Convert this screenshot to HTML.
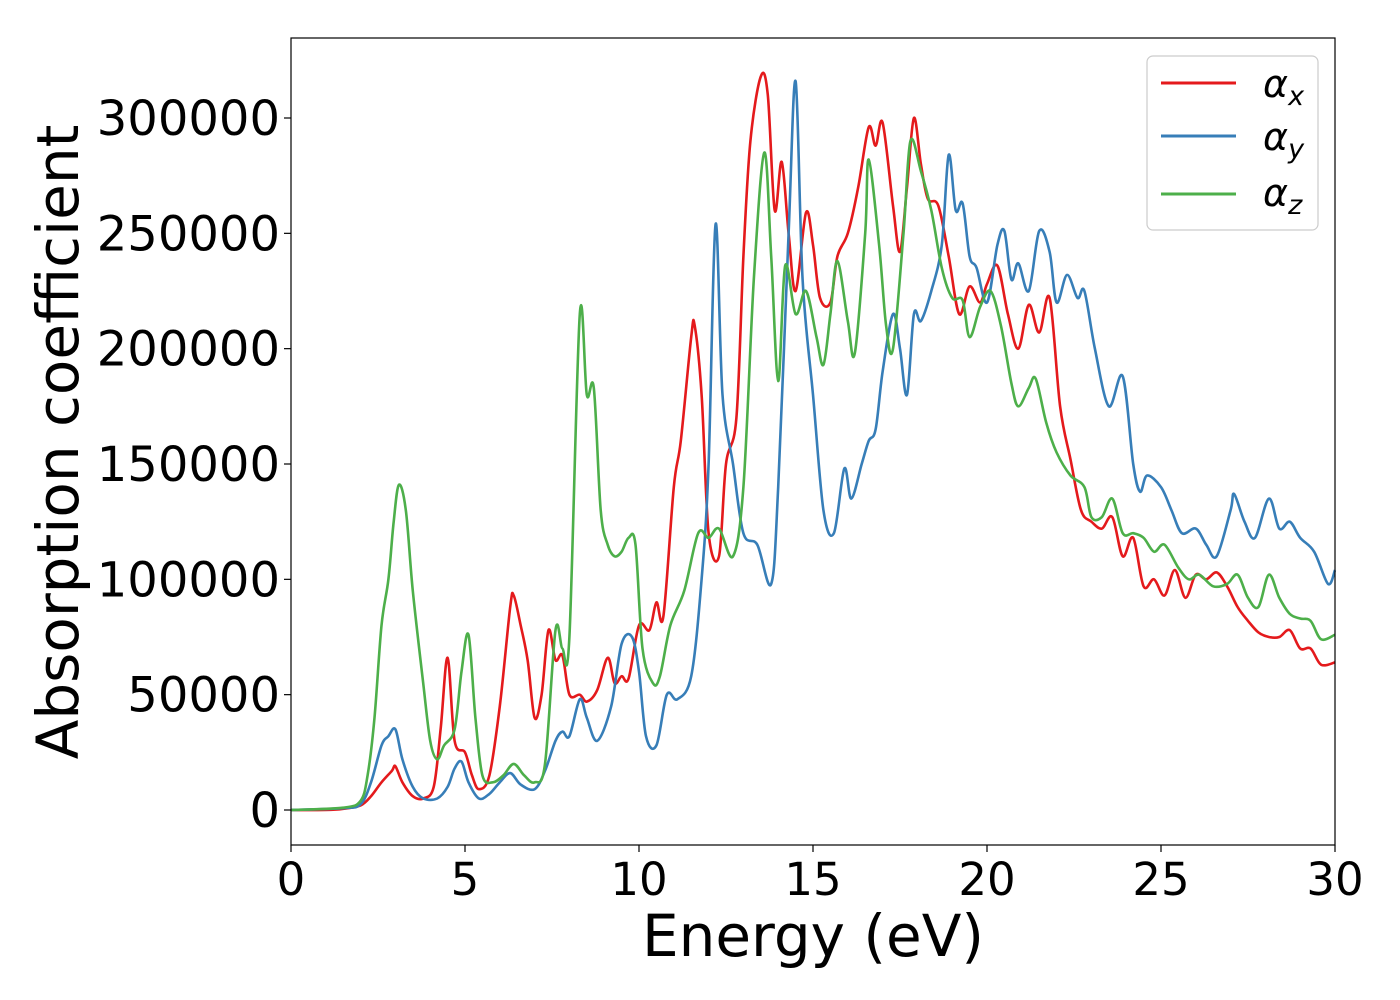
<!DOCTYPE html>
<html><head><meta charset="utf-8"><style>
html,body{margin:0;padding:0;background:#fff;}
svg{display:block;font-family:"DejaVu Sans","Liberation Sans",sans-serif;}
</style></head><body>
<svg id="chart" width="1400" height="1000">
<rect x="291" y="38" width="1044" height="807" fill="#fff"/>
<g id="lines"></g>
<rect x="291" y="38" width="1044" height="807" fill="none" stroke="#000" stroke-width="1.2"/>
<g id="xticks"></g><g id="yticks"></g>
<text x="813" y="956" font-size="58" text-anchor="middle">Energy (eV)</text>
<text transform="translate(78,442) rotate(-90)" font-size="58" text-anchor="middle">Absorption coefficient</text>
<g>
<rect x="1147" y="56" width="171" height="174" rx="6" fill="#fff" fill-opacity="0.8" stroke="#ccc" stroke-width="1.2"/>
<g><line x1="1161" y1="83" x2="1236" y2="83" stroke="#e41a1c" stroke-width="3"/><text x="1263" y="97" font-size="38" font-style="italic">α<tspan font-size="27" dy="8">x</tspan></text></g>
<g><line x1="1161" y1="136" x2="1236" y2="136" stroke="#377eb8" stroke-width="3"/><text x="1263" y="150" font-size="38" font-style="italic">α<tspan font-size="27" dy="8">y</tspan></text></g>
<g><line x1="1161" y1="194" x2="1236" y2="194" stroke="#4daf4a" stroke-width="3"/><text x="1263" y="206" font-size="38" font-style="italic">α<tspan font-size="27" dy="8">z</tspan></text></g>
</g>
</svg>
<script>
const xTicks=[0,5,10,15,20,25,30];
const yTicks=[0,50000,100000,150000,200000,250000,300000];
const redE=[0,1,1.5,2,2.3,2.6,2.9,3.0,3.2,3.5,3.8,4.1,4.3,4.5,4.7,5.0,5.2,5.4,5.7,6.0,6.3,6.4,6.6,6.8,7.0,7.2,7.4,7.6,7.8,8.0,8.3,8.5,8.8,9.1,9.3,9.5,9.7,10.0,10.3,10.5,10.7,11.0,11.2,11.5,11.6,11.8,12.0,12.3,12.5,12.8,13.0,13.2,13.5,13.7,13.9,14.1,14.3,14.5,14.8,15.0,15.2,15.5,15.7,16.0,16.3,16.6,16.8,17.0,17.3,17.5,17.7,17.9,18.1,18.3,18.6,18.9,19.2,19.5,19.8,20.0,20.3,20.6,20.9,21.2,21.5,21.8,22.1,22.4,22.7,23.0,23.3,23.6,23.9,24.2,24.5,24.8,25.1,25.4,25.7,26.0,26.3,26.6,26.9,27.2,27.5,27.8,28.1,28.4,28.7,29.0,29.3,29.6,30];
const redV=[0,0,500,2000,6000,12000,17000,19000,12000,6000,5000,10000,35000,66000,30000,25000,15000,9000,15000,45000,88000,93000,80000,65000,40000,50000,78000,65000,67000,50000,50000,47000,52000,66000,55000,58000,57000,80000,78000,90000,84000,140000,160000,205000,210000,180000,120000,110000,150000,170000,240000,290000,318000,310000,260000,281000,250000,225000,259000,245000,222000,220000,240000,250000,270000,296000,288000,298000,262000,242000,270000,300000,280000,265000,262000,240000,215000,227000,220000,228000,236000,215000,200000,219000,207000,222000,175000,152000,130000,125000,122000,127000,110000,118000,97000,100000,93000,104000,92000,102000,100000,103000,97000,88000,82000,77000,75000,75000,78000,70000,70000,63000,64000];
const blueE=[0,1.5,2,2.3,2.6,2.8,3.0,3.2,3.5,3.8,4.2,4.5,4.7,4.9,5.1,5.4,5.7,6.0,6.3,6.6,7.0,7.3,7.6,7.8,8.0,8.3,8.5,8.8,9.2,9.5,9.8,10.0,10.2,10.5,10.8,11.1,11.5,11.8,12.0,12.2,12.4,12.7,13.0,13.4,13.8,14.0,14.3,14.5,14.7,15.0,15.3,15.6,15.9,16.1,16.4,16.6,16.8,17.0,17.3,17.5,17.7,17.9,18.1,18.4,18.7,18.9,19.1,19.3,19.5,19.7,20.0,20.3,20.5,20.7,20.9,21.2,21.5,21.8,22.0,22.3,22.6,22.8,23.1,23.5,23.9,24.2,24.4,24.6,25.0,25.3,25.6,26.0,26.3,26.6,27.0,27.1,27.4,27.7,28.1,28.4,28.7,29.0,29.4,29.8,30];
const blueV=[0,800,2500,12000,28000,32000,35000,22000,10000,5000,5000,10000,18000,21000,12000,5000,7000,12000,16000,11000,9000,17000,30000,34000,32000,48000,40000,30000,45000,72000,75000,60000,32000,28000,50000,48000,58000,100000,150000,254000,180000,150000,120000,115000,98000,140000,250000,316000,230000,180000,130000,120000,148000,135000,150000,160000,165000,190000,215000,200000,180000,215000,212000,225000,245000,284000,260000,263000,240000,235000,220000,245000,251000,230000,237000,225000,251000,242000,220000,232000,222000,225000,200000,175000,188000,150000,138000,145000,140000,130000,120000,122000,115000,110000,130000,137000,125000,118000,135000,122000,125000,118000,112000,98000,104000];
const greenE=[0,1.5,2.0,2.2,2.4,2.6,2.8,2.95,3.1,3.3,3.5,3.8,4.0,4.2,4.4,4.7,4.9,5.1,5.3,5.5,5.8,6.1,6.4,6.7,7.0,7.3,7.6,7.8,8.0,8.3,8.5,8.7,8.9,9.1,9.3,9.5,9.7,9.9,10.1,10.4,10.6,10.9,11.3,11.7,12.0,12.3,12.7,13.0,13.3,13.6,13.8,14.0,14.2,14.5,14.8,15.1,15.3,15.5,15.7,16.0,16.2,16.5,16.6,16.9,17.1,17.3,17.6,17.8,18.1,18.4,18.7,19.0,19.3,19.5,19.8,20.1,20.4,20.7,20.9,21.2,21.4,21.7,22.0,22.4,22.8,23.0,23.3,23.6,23.9,24.2,24.5,24.8,25.1,25.5,25.8,26.1,26.5,26.9,27.2,27.5,27.8,28.1,28.4,28.7,29.0,29.3,29.6,30];
const greenV=[0,1000,4000,15000,40000,80000,100000,125000,141000,130000,95000,55000,30000,22000,28000,35000,60000,76000,40000,15000,12000,15000,20000,15000,12000,20000,78000,70000,75000,215000,180000,183000,130000,115000,110000,112000,118000,115000,70000,55000,58000,80000,95000,120000,118000,122000,110000,140000,230000,285000,240000,186000,236000,215000,225000,205000,193000,215000,238000,212000,198000,250000,282000,245000,210000,200000,250000,290000,277000,260000,235000,222000,221000,205000,218000,225000,210000,185000,175000,183000,187000,168000,155000,145000,140000,127000,127000,135000,120000,120000,118000,112000,115000,105000,100000,102000,97000,98000,102000,92000,88000,102000,92000,85000,83000,82000,74000,76000];

const NS='http://www.w3.org/2000/svg';
const X0=291,X1=1335,Y0=810,YT=118;
function sx(e){return X0+(e-0)/(30-0)*(X1-X0);}
function sy(v){return Y0-(v/300000)*(Y0-YT);}
function mk(tag,attrs,parent){const el=document.createElementNS(NS,tag);for(const k in attrs)el.setAttribute(k,attrs[k]);parent.appendChild(el);return el;}
function path(E,V){
  const p=E.map((e,i)=>[sx(e),sy(V[i])]);
  let d='M'+p[0][0].toFixed(1)+','+p[0][1].toFixed(1);
  for(let i=0;i<p.length-1;i++){
    const a=p[i-1]||p[i],b=p[i],c=p[i+1],n=p[i+2]||c;
    const c1=[b[0]+(c[0]-a[0])/6,b[1]+(c[1]-a[1])/6],c2=[c[0]-(n[0]-b[0])/6,c[1]-(n[1]-b[1])/6];
    d+=' C'+c1[0].toFixed(1)+','+c1[1].toFixed(1)+' '+c2[0].toFixed(1)+','+c2[1].toFixed(1)+' '+c[0].toFixed(1)+','+c[1].toFixed(1);
  }
  return d;
}
const lg=document.getElementById('lines');
const series=[['series-alpha-x',redE,redV,'#e41a1c'],['series-alpha-y',blueE,blueV,'#377eb8'],['series-alpha-z',greenE,greenV,'#4daf4a']];
for(const s of series){
  const el=mk('path',{d:path(s[1],s[2]),fill:'none',stroke:s[3],'stroke-width':2.6,'stroke-linejoin':'round'},lg);
  
  
}
const xg=document.getElementById('xticks');
for(const t of xTicks){
  const g=mk('g',{},xg);
  
  
  mk('line',{x1:sx(t),x2:sx(t),y1:845,y2:852,stroke:'#000','stroke-width':1.2},g);
  const tx=mk('text',{x:sx(t),y:895,'font-size':45,'text-anchor':'middle'},g);tx.textContent=t;
}
const yg=document.getElementById('yticks');
for(const t of yTicks){
  const g=mk('g',{},yg);
  
  
  mk('line',{x1:284,x2:291,y1:sy(t),y2:sy(t),stroke:'#000','stroke-width':1.2},g);
  const tx=mk('text',{x:280,y:sy(t)+17,'font-size':48,'text-anchor':'end'},g);tx.textContent=t;
}
</script>
</body></html>
